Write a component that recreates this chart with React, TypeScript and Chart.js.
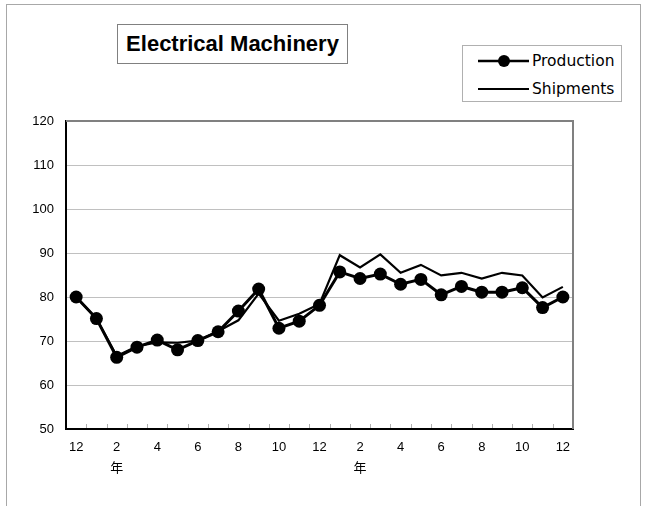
import React, { useEffect, useRef } from "react";
import { Chart, registerables } from "chart.js";

Chart.register(...registerables);

const months = ["12", "1", "2", "3", "4", "5", "6", "7", "8", "9", "10", "11", "12", "1", "2", "3", "4", "5", "6", "7", "8", "9", "10", "11", "12"];
const yearMarkIndexes = [2, 14];
const yearMark = "年";
const production = [80.0, 75.1, 66.3, 68.6, 70.2, 68.0, 70.1, 72.1, 76.8, 81.8, 72.9, 74.5, 78.1, 85.7, 84.2, 85.2, 82.9, 84.0, 80.5, 82.4, 81.1, 81.1, 82.1, 77.6, 80.0];
const shipments = [80.0, 75.1, 66.6, 68.8, 69.7, 69.6, 70.1, 72.2, 74.7, 80.8, 74.6, 76.2, 78.4, 89.5, 86.7, 89.7, 85.5, 87.3, 84.9, 85.5, 84.2, 85.5, 84.9, 79.9, 82.3];
const yMin = 50;
const yMax = 120;
const yStep = 10;
const titleText = "Electrical Machinery";
const seriesNames = ["Production", "Shipments"];

const FONT = '"Liberation Sans", Arial, "Noto Sans CJK JP", sans-serif';
const LEGEND_FONT = '"DejaVu Sans", "Liberation Sans", sans-serif';

const framePlugin = {
  id: "frame",
  afterDraw(chart: any) {
    const { ctx, chartArea, scales } = chart;
    const { left, top, right, bottom } = chartArea;
    const x = scales.x;
    ctx.save();
    // inward tick marks at category boundaries
    ctx.strokeStyle = "#b0b0b0";
    ctx.lineWidth = 1;
    const n = months.length;
    const half = (x.getPixelForValue(1) - x.getPixelForValue(0)) / 2;
    for (let i = 1; i < n; i++) {
      const px = Math.round(x.getPixelForValue(i) - half) + 0.5;
      ctx.beginPath();
      ctx.moveTo(px, bottom - 1);
      ctx.lineTo(px, bottom - 5);
      ctx.stroke();
    }
    // gray top and right frame
    ctx.strokeStyle = "#808080";
    ctx.lineWidth = 2;
    ctx.beginPath();
    ctx.moveTo(left, top);
    ctx.lineTo(right, top);
    ctx.lineTo(right, bottom);
    ctx.stroke();
    ctx.restore();
  },
};

export default function App() {
  const ref = useRef<HTMLCanvasElement | null>(null);

  useEffect(() => {
    if (!ref.current) return;
    const chart = new Chart(ref.current, {
      type: "line",
      data: {
        labels: months,
        datasets: [
          {
            label: seriesNames[0],
            data: production,
            borderColor: "#000",
            backgroundColor: "#000",
            borderWidth: 3,
            pointRadius: 6.5,
            pointHoverRadius: 6.5,
            pointBackgroundColor: "#000",
            pointBorderWidth: 0,
            tension: 0,
          },
          {
            label: seriesNames[1],
            data: shipments,
            borderColor: "#000",
            backgroundColor: "#000",
            borderWidth: 2.2,
            pointRadius: 0,
            tension: 0,
          },
        ],
      },
      options: {
        responsive: false,
        animation: false,
        events: [],
        layout: { padding: { left: 20, top: 121, right: 75, bottom: 26 } },
        plugins: {
          legend: { display: false },
          title: { display: false },
          tooltip: { enabled: false },
        },
        scales: {
          x: {
            type: "category",
            offset: true,
            afterFit(scale: any) {
              scale.height = 51;
            },
            grid: { display: true, drawOnChartArea: false, drawTicks: false, offset: true },
            border: { display: true, color: "#000", width: 2 },
            ticks: {
              autoSkip: false,
              maxRotation: 0,
              minRotation: 0,
              padding: 8,
              color: "#000",
              font: { family: FONT, size: 13, lineHeight: 1.62 },
              callback: (_v: any, i: number) => {
                if (i % 2 !== 0) return "";
                if (yearMarkIndexes.includes(i)) return [months[i], yearMark];
                return months[i];
              },
            },
          },
          y: {
            min: yMin,
            max: yMax,
            afterFit(scale: any) {
              scale.width = 46;
            },
            grid: { color: "#c0c0c0", lineWidth: 1, drawTicks: false },
            border: { display: true, color: "#000", width: 2 },
            ticks: {
              stepSize: yStep,
              padding: 12,
              color: "#000",
              font: { family: FONT, size: 13 },
            },
          },
        },
      },
      plugins: [framePlugin],
    });
    return () => chart.destroy();
  }, []);

  return (
    <div
      style={{
        position: "fixed",
        left: 0,
        top: 0,
        width: 648,
        height: 506,
        overflow: "hidden",
        background: "#fff",
        fontFamily: FONT,
      }}
    >
      <div
        style={{
          position: "absolute",
          left: 6,
          top: 4,
          width: 635,
          height: 520,
          border: "1px solid #a8a8a8",
          boxSizing: "border-box",
        }}
      />
      <canvas ref={ref} width={648} height={506} style={{ position: "absolute", left: 0, top: 0 }} />
      <div
        style={{
          position: "absolute",
          left: 117,
          top: 24,
          width: 231,
          height: 40,
          border: "1px solid #808080",
          boxSizing: "border-box",
          display: "flex",
          alignItems: "center",
          justifyContent: "center",
          fontWeight: "bold",
          fontSize: 22,
          color: "#000",
          background: "#fff",
          whiteSpace: "nowrap",
        }}
      >
        {titleText}
      </div>
      <div
        style={{
          position: "absolute",
          left: 462,
          top: 45,
          width: 160,
          height: 57,
          border: "1px solid #b0b0b0",
          boxSizing: "border-box",
          background: "#fff",
          fontSize: 15.5,
          fontFamily: LEGEND_FONT,
          color: "#000",
          whiteSpace: "nowrap",
        }}
      >
        <div style={{ position: "absolute", left: 15, top: 6, display: "flex", alignItems: "center", height: 18 }}>
          <svg width={51} height={18} style={{ display: "block" }}>
            <line x1={0} y1={9} x2={51} y2={9} stroke="#000" strokeWidth={2.5} />
            <circle cx={26} cy={9} r={6} fill="#000" />
          </svg>
          <span style={{ marginLeft: 3 }}>{seriesNames[0]}</span>
        </div>
        <div style={{ position: "absolute", left: 15, top: 34, display: "flex", alignItems: "center", height: 18 }}>
          <svg width={51} height={18} style={{ display: "block" }}>
            <line x1={0} y1={9} x2={51} y2={9} stroke="#000" strokeWidth={2} />
          </svg>
          <span style={{ marginLeft: 3 }}>{seriesNames[1]}</span>
        </div>
      </div>
    </div>
  );
}
